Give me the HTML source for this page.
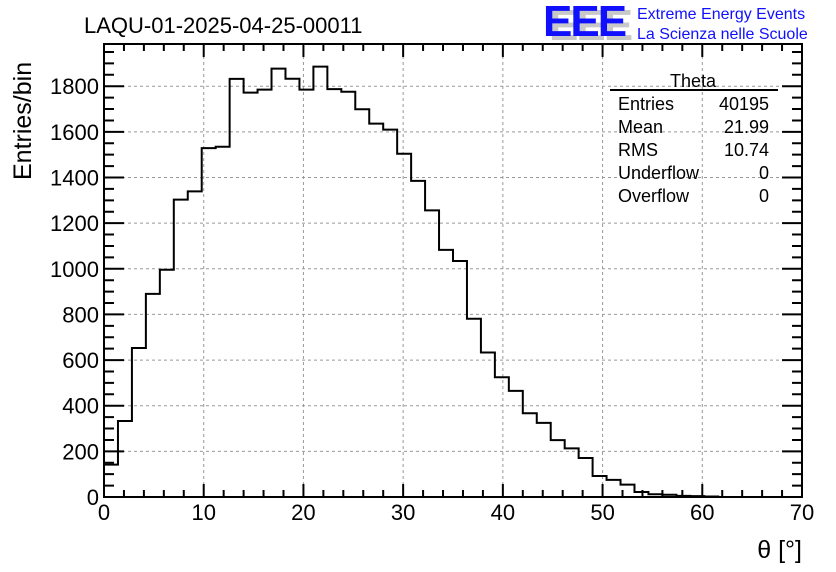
<!DOCTYPE html>
<html><head><meta charset="utf-8"><style>
html,body{margin:0;padding:0;background:#fff;}
svg{display:block;font-family:"Liberation Sans",sans-serif;}
</style></head><body>
<svg id="c" width="836" height="572" viewBox="0 0 836 572">
<rect width="836" height="572" fill="#fff"/>
<text x="84" y="33" font-size="22">LAQU-01-2025-04-25-00011</text>
<g>
<text x="549" y="40" font-size="44" font-weight="bold" fill="#c8c8c8" letter-spacing="-2">EEE</text>
<text x="543" y="36" font-size="44" font-weight="bold" fill="#1010ff" letter-spacing="-2">EEE</text>
<text x="637" y="19" font-size="16" fill="#1010ff">Extreme Energy Events</text>
<text x="637" y="39" font-size="16" fill="#1010ff">La Scienza nelle Scuole</text>
</g>
<g id="grid"></g>
<g id="ticks"></g>
<path id="hist" fill="none" stroke="#000" stroke-width="2"/>
<rect x="104" y="44" width="698" height="453" fill="none" stroke="#000" stroke-width="2"/>
<text transform="translate(31,180) rotate(-90)" font-size="25">Entries/bin</text>
<text x="802" y="558" font-size="25" text-anchor="end">θ [°]</text>
<g font-size="18">
<text x="693" y="87" text-anchor="middle">Theta</text>
<line x1="610" y1="90" x2="778" y2="90" stroke="#000" stroke-width="2"/>
<text x="618" y="110">Entries</text><text x="769" y="110" text-anchor="end">40195</text>
<text x="618" y="133">Mean</text><text x="769" y="133" text-anchor="end">21.99</text>
<text x="618" y="156">RMS</text><text x="769" y="156" text-anchor="end">10.74</text>
<text x="618" y="179">Underflow</text><text x="769" y="179" text-anchor="end">0</text>
<text x="618" y="202">Overflow</text><text x="769" y="202" text-anchor="end">0</text>
</g>
</svg>
<script>
const binWidth = 1.4;
const counts = [142,333,653,890,996,1303,1339,1529,1535,1832,1772,1785,1877,1833,1785,1886,1787,1776,1699,1636,1610,1504,1385,1256,1083,1034,781,633,525,465,367,325,249,213,171,92,75,54,22,12,10,5,4,2,0,0,0,0,0,0];
const xTicks = [0,10,20,30,40,50,60,70];
const yTicks = [0,200,400,600,800,1000,1200,1400,1600,1800];

const X0=104,X1=802,Y0=497,Y1=44,XMAX=70,YMAX=1985;
const sx=v=>X0+(v/XMAX)*(X1-X0);
const sy=v=>Y0-(v/YMAX)*(Y0-Y1);
const NS="http://www.w3.org/2000/svg";
function mk(tag,attrs,parent){const e=document.createElementNS(NS,tag);for(const k in attrs)e.setAttribute(k,attrs[k]);parent.appendChild(e);return e;}
const grid=document.getElementById('grid'), ticks=document.getElementById('ticks'), svg=document.getElementById('c');
xTicks.forEach(t=>{
  if(t>0&&t<XMAX){const g=mk('line',{x1:sx(t),x2:sx(t),y1:Y1,y2:Y0,stroke:'#999','stroke-dasharray':'3,3','stroke-width':1},grid);
  
  }
  const l=mk('text',{x:sx(t),y:520,'font-size':22,'text-anchor':'middle'},svg);
  l.textContent=t;
  
  
});
yTicks.forEach(t=>{
  if(t>0){const g=mk('line',{x1:X0,x2:X1,y1:sy(t),y2:sy(t),stroke:'#999','stroke-dasharray':'3,3','stroke-width':1},grid);
  
  }
  const l=mk('text',{x:99,y:sy(t)+8,'font-size':22,'text-anchor':'end'},svg);
  l.textContent=t;
  
  
});
let d='';
for(let v=0;v<=XMAX;v+=2){const L=(v%10===0)?13:7;d+=`M${sx(v)},${Y0}v${-L}M${sx(v)},${Y1}v${L}`;}
for(let v=0;v<=YMAX;v+=50){const L=(v%200===0)?20:10;d+=`M${X0},${sy(v)}h${L}M${X1},${sy(v)}h${-L}`;}
const tp=mk('path',{d:d,stroke:'#000','stroke-width':2,fill:'none'},ticks);


let h=`M${sx(0)},${sy(counts[0])}`;
counts.forEach((c,i)=>{
  h+=`L${sx(i*binWidth)},${sy(c)}L${sx((i+1)*binWidth)},${sy(c)}`;
  if(i+1<counts.length)h+=`L${sx((i+1)*binWidth)},${sy(counts[i+1])}`;
});
document.getElementById('hist').setAttribute('d',h);
</script>
</body></html>
